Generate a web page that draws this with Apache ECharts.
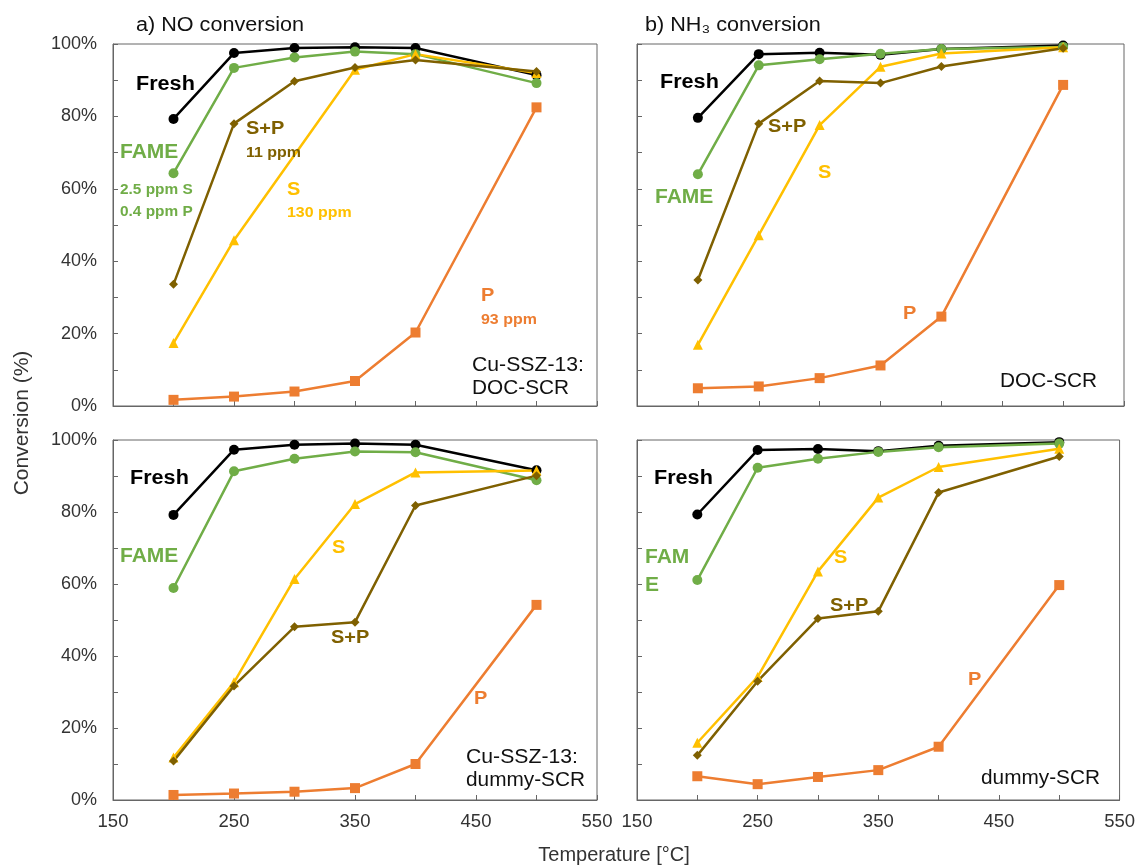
<!DOCTYPE html>
<html><head><meta charset="utf-8">
<script src="https://cdn.jsdelivr.net/npm/echarts@6/dist/echarts.min.js"></script>
<style>html,body{margin:0;padding:0;background:#fff}#c{width:1138px;height:866px}</style>
</head><body><div id="c"></div>
<script>
// Temperatures [°C]
const temps = [200, 250, 300, 350, 400, 500];
// a) NO conversion, Cu-SSZ-13: DOC-SCR
const aFresh = [79.3, 97.5, 98.9, 99.1, 98.9, 91.4];
const aFAME  = [64.3, 93.4, 96.3, 97.9, 97.2, 89.2];
const aS     = [17.4, 45.8, null, 92.9, 97.2, 92.0];
const aSP    = [33.6, 78.0, 89.7, 93.5, 95.6, 92.4];
const aP     = [1.7, 2.6, 4.0, 6.9, 20.3, 82.5];
// b) NH3 conversion, DOC-SCR
const bFresh = [79.6, 97.2, 97.6, 97.0, 98.6, 99.6];
const bFAME  = [64.0, 94.1, 95.8, 97.3, 98.6, 99.2];
const bS     = [16.9, 47.2, 77.6, 93.7, 97.4, 99.1];
const bSP    = [34.8, 78.0, 89.8, 89.2, 93.8, 98.8];
const bP     = [4.9, 5.4, 7.7, 11.2, 24.7, 88.7];
// c) NO conversion, Cu-SSZ-13: dummy-SCR
const cFresh = [79.2, 97.3, 98.7, 99.0, 98.7, 91.6];
const cFAME  = [58.9, 91.3, 94.8, 96.8, 96.6, 88.8];
const cS     = [11.8, 32.7, 61.4, 82.2, 91.0, 91.5];
const cSP    = [10.8, 31.7, 48.1, 49.4, 81.8, 90.1];
const cP     = [1.4, 1.8, 2.3, 3.3, 10.0, 54.2];
// d) NH3 conversion, dummy-SCR
const dFresh = [79.3, 97.2, 97.5, 96.9, 98.4, 99.4];
const dFAME  = [61.1, 92.3, 94.8, 96.7, 98.0, 99.0];
const dS     = [15.9, 34.2, 63.5, 84.0, 92.5, 97.6];
const dSP    = [12.4, 33.0, 50.4, 52.4, 85.4, 95.4];
const dP     = [6.6, 4.4, 6.4, 8.3, 14.8, 59.7];

const yTicks = [0, 20, 40, 60, 80, 100];
const xTicks = [150, 250, 350, 450, 550];

const COL = {Fresh:'#000000', FAME:'#70AD47', S:'#FFC000', SP:'#7F6000', P:'#ED7D31'};
const FONT = 'Liberation Sans, Arial, sans-serif';
const AX = '#666666';

const grids = [
  {left:113, top:44, width:484, height:362},
  {left:637, top:44, width:487, height:362},
  {left:113, top:440, width:484, height:360},
  {left:637, top:440, width:487, height:360}
];

function xAx(gi, show){
  return {type:'value', gridIndex:gi, min:150, max:550, interval:50,
    axisLine:{show:true, lineStyle:{color:AX, width:1}},
    axisTick:{show:true, inside:true, length:5, lineStyle:{color:AX}},
    splitLine:{show:false},
    axisLabel:{show:show, margin:12, fontSize:18.5, fontFamily:FONT, color:'#333',
      formatter:v => xTicks.includes(v) ? String(v) : ''}};
}
function yAx(gi, show){
  return {type:'value', gridIndex:gi, min:0, max:100, interval:10,
    axisLine:{show:true, lineStyle:{color:AX, width:1}},
    axisTick:{show:true, inside:true, length:5, lineStyle:{color:AX}},
    splitLine:{show:false},
    axisLabel:{show:show, margin:16, fontSize:18, fontFamily:FONT, color:'#333',
      formatter:v => yTicks.includes(v) ? v + '%' : ''}};
}
function ser(name, gi, vals, color, symbol, size){
  return {name:name, type:'line', xAxisIndex:gi, yAxisIndex:gi,
    data: temps.map((t,i) => [t, vals[i]]), connectNulls:true,
    symbol:symbol, symbolSize:size, showSymbol:true,
    lineStyle:{color:color, width:2.5}, itemStyle:{color:color},
    emphasis:{disabled:true}, silent:true};
}
const panels = [
  [aFresh, aFAME, aS, aSP, aP],
  [bFresh, bFAME, bS, bSP, bP],
  [cFresh, cFAME, cS, cSP, cP],
  [dFresh, dFAME, dS, dSP, dP]
];
const series = [];
panels.forEach((p, gi) => {
  series.push(ser('Fresh', gi, p[0], COL.Fresh, 'circle', 10));
  series.push(ser('FAME', gi, p[1], COL.FAME, 'circle', 10));
  series.push(ser('S', gi, p[2], COL.S, 'triangle', 10));
  series.push(ser('S+P', gi, p[3], COL.SP, 'diamond', 9));
  series.push(ser('P', gi, p[4], COL.P, 'rect', 10));
});

// annotation texts: [text, x, y, color, size, bold, align, scaleX]
const notes = [
  ['a) NO conversion', 136, 25, '#111', 20, false, 'left', 1.08],
  ['Fresh', 136, 84, COL.Fresh, 20, true, 'left', 1.08],
  ['FAME', 120, 152, COL.FAME, 20, true, 'left', 1.05],
  ['2.5 ppm S', 120, 190, COL.FAME, 14, true, 'left', 1.1],
  ['0.4 ppm P', 120, 212, COL.FAME, 14, true, 'left', 1.1],
  ['S+P', 246, 129, COL.SP, 19, true, 'left', 1.05],
  ['11 ppm', 246, 153, COL.SP, 14.5, true, 'left', 1.1],
  ['S', 287, 190, COL.S, 19, true, 'left', 1.05],
  ['130 ppm', 287, 213, COL.S, 14.5, true, 'left', 1.1],
  ['P', 481, 296, COL.P, 19, true, 'left', 1.05],
  ['93 ppm', 481, 320, COL.P, 14.5, true, 'left', 1.1],
  ['Cu-SSZ-13:', 472, 365, '#111', 20, false, 'left', 1.06],
  ['DOC-SCR', 472, 388, '#111', 20, false, 'left', 1.04],

  ['b) NH\u2083 conversion', 645, 25, '#111', 20, false, 'left', 1.08],
  ['Fresh', 660, 82, COL.Fresh, 20, true, 'left', 1.08],
  ['S+P', 768, 127, COL.SP, 19, true, 'left', 1.05],
  ['S', 818, 173, COL.S, 19, true, 'left', 1.05],
  ['FAME', 655, 197, COL.FAME, 20, true, 'left', 1.05],
  ['P', 903, 314, COL.P, 19, true, 'left', 1.05],
  ['DOC-SCR', 1000, 381, '#111', 20, false, 'left', 1.04],

  ['Fresh', 130, 478, COL.Fresh, 20, true, 'left', 1.08],
  ['FAME', 120, 556, COL.FAME, 20, true, 'left', 1.05],
  ['S', 332, 548, COL.S, 19, true, 'left', 1.05],
  ['S+P', 331, 638, COL.SP, 19, true, 'left', 1.05],
  ['P', 474, 699, COL.P, 19, true, 'left', 1.05],
  ['Cu-SSZ-13:', 466, 757, '#111', 20, false, 'left', 1.06],
  ['dummy-SCR', 466, 780, '#111', 20, false, 'left', 1.04],

  ['Fresh', 654, 478, COL.Fresh, 20, true, 'left', 1.08],
  ['FAM', 645, 557, COL.FAME, 20, true, 'left', 1.05],
  ['E', 645, 585, COL.FAME, 20, true, 'left', 1.05],
  ['S', 834, 558, COL.S, 19, true, 'left', 1.05],
  ['S+P', 830, 606, COL.SP, 19, true, 'left', 1.05],
  ['P', 968, 680, COL.P, 19, true, 'left', 1.05],
  ['dummy-SCR', 981, 778, '#111', 20, false, 'left', 1.04],

  ['Temperature [\u00B0C]', 614, 855, '#333', 20, false, 'center', 1.0]
];
const graphic = notes.map(n => ({
  type:'text', x:n[1], y:n[2], scaleX:n[7], silent:true, z:100,
  style:{text:n[0], x:0, y:0, fill:n[3],
    font:(n[5] ? 'bold ' : '') + n[4] + 'px ' + FONT,
    textAlign:n[6], textVerticalAlign:'middle'}
}));
graphic.push({type:'text', x:22, y:423, rotation:Math.PI/2, silent:true, z:100,
  style:{text:'Conversion (%)', x:0, y:0, fill:'#333', font:'21px ' + FONT,
    textAlign:'center', textVerticalAlign:'middle'}});

const chart = echarts.init(document.getElementById('c'), null, {renderer:'canvas'});
chart.setOption({
  animation:false,
  backgroundColor:'#fff',
  grid: grids.map(g => Object.assign({show:true, borderColor:AX, borderWidth:1, backgroundColor:'transparent'}, g)),
  xAxis:[xAx(0,false), xAx(1,false), xAx(2,true), xAx(3,true)],
  yAxis:[yAx(0,true), yAx(1,false), yAx(2,true), yAx(3,false)],
  series:series,
  graphic:graphic
});
</script></body></html>
